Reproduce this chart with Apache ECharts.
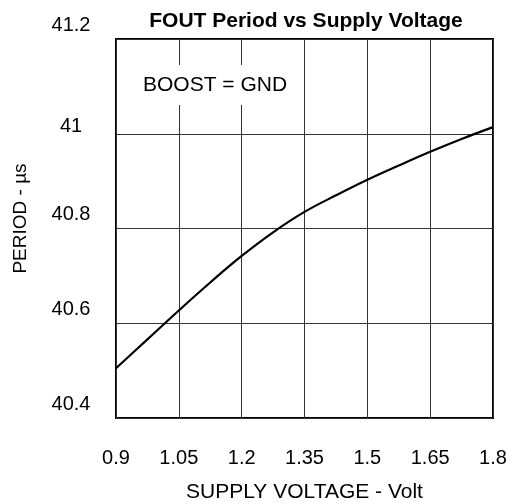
<!DOCTYPE html>
<html>
<head>
<meta charset="utf-8">
<script src="https://cdn.jsdelivr.net/npm/echarts@6/dist/echarts.min.js"></script>
<style>html,body{margin:0;padding:0;background:#fff}#c{width:514px;height:504px}</style>
</head>
<body>
<div id="c"></div>
<script>
var voltages = [0.9, 0.975, 1.05, 1.125, 1.2, 1.275, 1.35, 1.425, 1.5, 1.575, 1.65, 1.725, 1.8];
var periods = [40.505, 40.566, 40.627, 40.686, 40.742, 40.792, 40.835, 40.870, 40.903, 40.933, 40.962, 40.989, 41.014];
var xTicks = [0.9, 1.05, 1.2, 1.35, 1.5, 1.65, 1.8];
var yTicks = [40.4, 40.6, 40.8, 41, 41.2];

var FONT = '"Liberation Sans", Arial, sans-serif';
var chart = echarts.init(document.getElementById('c'));
chart.setOption({
  animation: false,
  backgroundColor: '#fff',
  title: [{
    text: 'FOUT Period vs Supply Voltage',
    left: 306, top: 11, textAlign: 'center', padding: 0,
    textStyle: {fontFamily: FONT, fontSize: 21, fontWeight: 'bold', color: '#000'}
  }, {
    text: 'BOOST = GND',
    left: 136, top: 65,
    padding: [10, 7, 9, 7],
    backgroundColor: '#fff',
    textStyle: {fontFamily: FONT, fontSize: 21, fontWeight: 'normal', color: '#000'}
  }],
  grid: {left: 116, right: 21, top: 39, bottom: 86, containLabel: false, outerBoundsMode: 'none',
    show: true, borderColor: '#000', borderWidth: 2, backgroundColor: 'transparent'},
  xAxis: {
    type: 'value', min: xTicks[0], max: xTicks[xTicks.length - 1], interval: 0.15,
    name: 'SUPPLY VOLTAGE - Volt', nameLocation: 'middle', nameGap: 64,
    nameTextStyle: {fontFamily: FONT, fontSize: 21, color: '#000'},
    axisLine: {show: false}, axisTick: {show: false},
    axisLabel: {margin: 30, fontFamily: FONT, fontSize: 20, color: '#000',
      formatter: function (v) { return String(parseFloat(v.toFixed(2))); }},
    splitLine: {show: true, lineStyle: {color: '#333', width: 1}}
  },
  yAxis: {
    type: 'value', min: yTicks[0], max: yTicks[yTicks.length - 1], interval: 0.2,
    name: 'PERIOD - µs', nameLocation: 'middle', nameGap: 86, nameRotate: 90,
    nameTextStyle: {fontFamily: FONT, fontSize: 19, color: '#000', padding: [0, 0, 0, 20]},
    axisLine: {show: false}, axisTick: {show: false},
    axisLabel: {margin: 45, align: 'center', verticalAlign: 'bottom', lineHeight: 28,
      fontFamily: FONT, fontSize: 20, color: '#000',
      formatter: function (v) {
        var s = String(parseFloat(v.toFixed(1)));
        return s === '41' ? '{low|' + s + '}' : s;
      },
      rich: {low: {fontFamily: FONT, fontSize: 20, color: '#000', lineHeight: 14}}},
    splitLine: {show: true, lineStyle: {color: '#333', width: 1}}
  },
  series: [{
    type: 'line', smooth: 0.4, showSymbol: false, symbol: 'none',
    data: voltages.map(function (v, i) { return [v, periods[i]]; }),
    lineStyle: {color: '#000', width: 2.2}
  }]
});
</script>
</body>
</html>
